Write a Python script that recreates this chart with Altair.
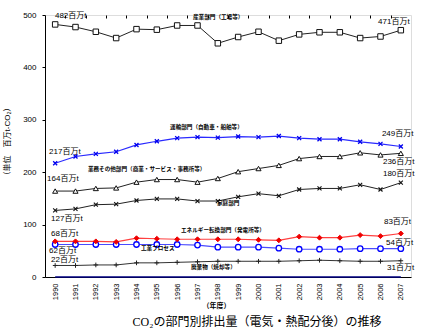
import altair as alt
import pandas as pd

years = list(range(1990, 2008))
industry = [482, 477, 468, 456, 473, 472, 480, 480, 446, 458, 468, 451, 463, 467, 467, 456, 459, 471]
transport = [217, 230, 235, 239, 252, 259, 265, 267, 266, 268, 267, 269, 265, 263, 263, 258, 254, 249]
commercial = [164, 164, 169, 170, 181, 186, 186, 181, 188, 201, 207, 213, 226, 230, 230, 237, 233, 236]
household = [127, 130, 138, 139, 146, 149, 149, 145, 145, 153, 159, 155, 167, 169, 169, 176, 167, 180]
energy = [68, 68, 68, 67, 74, 73, 72, 72, 72, 72, 71, 70, 77, 75, 75, 80, 78, 83]
process = [62, 62, 62, 62, 62, 62, 62, 61, 57, 57, 57, 55, 53, 53, 53, 54, 54, 54]
waste = [22, 22, 23, 23, 27, 27, 28, 29, 30, 30, 30, 30, 31, 32, 31, 30, 30, 31]
others = [0] * 18

y_ticks = [0, 100, 200, 300, 400, 500]
boundaries = [y + 0.5 for y in years[:-1]]

# value annotations
value_labels = ["482百万t", "471百万t", "217百万t", "249百万t", "236百万t", "164百万t", "127百万t",
                "180百万t", "68百万t", "83百万t", "62百万t", "54百万t", "22百万t", "31百万t"]
value_lx = [1989.99, 2005.88, 1989.70, 2006.07, 2006.12, 1989.60, 1989.80,
            2006.12, 1989.80, 2006.17, 1989.70, 2006.27, 1989.80, 2006.32]
value_ly = [497.5, 487.5, 238.3, 272.6, 219.1, 186.7, 110.2,
            196.2, 81.6, 104.5, 50.5, 64.4, 32.0, 16.6]

sector_labels = ["産業部門（工場等）", "運輸部門（自動車・船舶等）", "業務その他部門（商業・サービス・事務所等）",
                 "家庭部門", "エネルギー転換部門（発電所等）", "工業プロセス", "廃棄物（焼却等）"]
sector_lx = [1996.78, 1995.65, 1991.61, 1997.96, 1996.19, 1994.22, 1996.68]
sector_ly = [496.2, 286.0, 205.8, 140.8, 89.2, 54.8, 18.5]

FONT = "Liberation Sans, Noto Sans CJK JP"

xscale = alt.Scale(domain=[1989.5, 2007.5], nice=False, zero=False)
yscale = alt.Scale(domain=[0, 500], nice=False)

yaxis = alt.Axis(values=y_ticks, tickSize=3, labelPadding=6, labelFontSize=8, labelFont=FONT,
                 grid=False, domainColor="black", tickColor="black", labelColor="black",
                 title="（単位　百万t-CO₂）", titleFontSize=8, titleFont=FONT, titleFontWeight="normal",
                 titleColor="black", titleAngle=270, titleX=-38, titleY=126,
                 titleAlign="center", titleBaseline="middle")


def series_df(vals):
    return pd.DataFrame({"year": years, "value": vals})


def line_layer(vals, color, width=1.0, xaxis=None):
    return alt.Chart(series_df(vals)).mark_line(color=color, strokeWidth=width).encode(
        x=alt.X("year:Q", scale=xscale, axis=xaxis),
        y=alt.Y("value:Q", scale=yscale, axis=yaxis),
    )


def point_layer(vals, shape, stroke, fill=None, size=30, sw=1.0):
    if fill is None:
        mk = alt.Chart(series_df(vals)).mark_point(shape=shape, filled=False, stroke=stroke,
                                                   strokeWidth=sw, size=size, opacity=1)
    else:
        mk = alt.Chart(series_df(vals)).mark_point(shape=shape, filled=True, fill=fill, stroke=stroke,
                                                   strokeWidth=sw, size=size, opacity=1, fillOpacity=1)
    return mk.encode(
        x=alt.X("year:Q", scale=xscale, axis=None),
        y=alt.Y("value:Q", scale=yscale, axis=yaxis),
    )


XMARK = "M-1,-1L1,1M-1,1L1,-1"
PLUS = "M-1,0L1,0M0,-1L0,1"

main_xaxis = alt.Axis(values=years, format="d", labelAngle=270, ticks=False, tickSize=0,
                      labelPadding=6, labelFontSize=7.5, labelFont=FONT, labelColor="black",
                      domainColor="black", grid=False,
                      title="（年度）", titleFontSize=7, titleFont=FONT, titleFontWeight="bold",
                      titleColor="black", titleX=171, titleY=28, titleAlign="center",
                      titleBaseline="middle")
tick_xaxis = alt.Axis(values=boundaries, labels=False, domain=False, ticks=True, tickSize=3,
                      offset=-3, tickColor="black", grid=False, title=None)

layers = [
    line_layer(others, "#000080", 1.6, main_xaxis),
    line_layer(waste, "#333333", 1.0, tick_xaxis),
    point_layer(waste, PLUS, "#222222", None, 22, 1.0),
    line_layer(process, "#4a4aff", 1.2),
    point_layer(process, "circle", "#0000ff", "white", 30, 1.3),
    line_layer(energy, "#ff4040", 1.2),
    point_layer(energy, "diamond", "#ee0000", "#ee0000", 24, 1.0),
    line_layer(household, "#222222", 1.0),
    point_layer(household, XMARK, "#111111", None, 16, 1.1),
    line_layer(commercial, "#222222", 1.0),
    point_layer(commercial, "triangle-up", "#111111", "white", 26, 1.0),
    line_layer(transport, "#2a2aff", 1.2),
    point_layer(transport, XMARK, "#0000ee", None, 16, 1.3),
    line_layer(industry, "#222222", 1.0),
    point_layer(industry, "square", "#111111", "white", 30, 1.0),
]

vdf = pd.DataFrame({"label": value_labels, "x": value_lx, "y": value_ly})
sdf = pd.DataFrame({"label": sector_labels, "x": sector_lx, "y": sector_ly})

value_text = alt.Chart(vdf).mark_text(align="left", baseline="middle", fontSize=8, font=FONT,
                                      color="black").encode(
    x=alt.X("x:Q", scale=xscale, axis=None),
    y=alt.Y("y:Q", scale=yscale, axis=yaxis),
    text="label:N",
)
sector_text = alt.Chart(sdf).mark_text(align="left", baseline="middle", fontSize=5.6, font=FONT,
                                       color="black", fontWeight="bold").encode(
    x=alt.X("x:Q", scale=xscale, axis=None),
    y=alt.Y("y:Q", scale=yscale, axis=yaxis),
    text="label:N",
)

chart = alt.layer(*layers, value_text, sector_text).resolve_axis(x="independent").properties(
    width=366,
    height=262,
    autosize=alt.AutoSizeParams(type="none"),
    padding={"left": 45, "top": 15, "right": 19, "bottom": 58},
    title=alt.TitleParams(text="CO₂の部門別排出量（電気・熱配分後）の推移", orient="bottom",
                          anchor="middle", offset=9, dx=29, fontSize=12,
                          font="Liberation Serif, Noto Sans CJK JP", fontWeight="normal",
                          color="black"),
).configure_view(stroke=None).configure(background="white")

chart.save("out.html", embed_options={"renderer": "svg", "actions": False})
